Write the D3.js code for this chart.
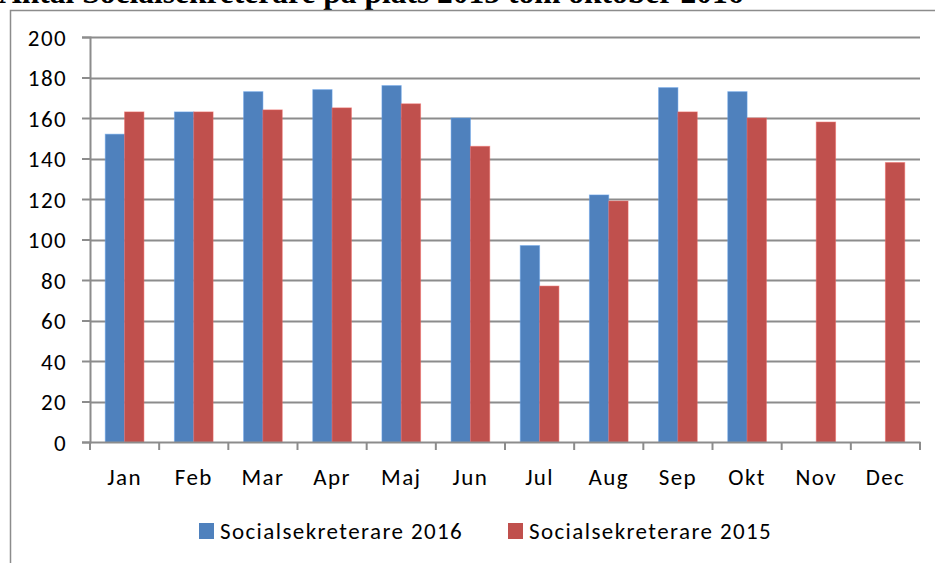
<!DOCTYPE html>
<html>
<head>
<meta charset="utf-8">
<script src="https://cdn.jsdelivr.net/npm/d3@7"></script>
<style>
  body { margin: 0; background: #fff; }
  svg { display: block; }
  .lbl { font-family: Carlito, Calibri, "Liberation Sans Narrow", "Open Sans", sans-serif; font-size: 23px; letter-spacing: 1.4px; fill: #000; }
</style>
</head>
<body>
<script>
const months = ['Jan', 'Feb', 'Mar', 'Apr', 'Maj', 'Jun', 'Jul', 'Aug', 'Sep', 'Okt', 'Nov', 'Dec'];
const series = ['Socialsekreterare 2016', 'Socialsekreterare 2015'];
const values2016 = [152, 163, 173, 174, 176, 160, 97, 122, 175, 173, null, null];
const values2015 = [163, 163, 164, 165, 167, 146, 77, 119, 163, 160, 158, 138];
const yTicks = [0, 20, 40, 60, 80, 100, 120, 140, 160, 180, 200];
const colors = ['#4F81BD', '#C0504D'];

const width = 935;
const height = 563;

const svg = d3.select('body')
  .append('svg')
  .attr('width', width)
  .attr('height', height);

// title, cropped at top of the picture as in the original screenshot
svg.append('text')
  .text('Antal Socialsekreterare på plats 2015 tom oktober 2016')
  .attr('x', -1)
  .attr('y', 3)
  .attr('font-family', '"Liberation Serif", "DejaVu Serif", serif')
  .attr('font-weight', 'bold')
  .attr('font-size', 31.5);

// chart frame
svg.append('path')
  .attr('d', `M 10.5 ${height + 5} L 10.5 10.5 L ${width + 5} 10.5`)
  .attr('fill', 'none')
  .attr('stroke', '#8c8c8c')
  .attr('stroke-width', 1.5);

const plotLeft = 90;
const plotRight = 920;
const plotTop = 37;
const plotBottom = 442;

const x = d3.scaleBand().domain(months).range([plotLeft, plotRight]);
const xInner = d3.scaleBand().domain(series).range([0, x.bandwidth()]).paddingOuter(0.79);
const y = d3.scaleLinear().domain([0, 200]).range([plotBottom, plotTop]);

// gridlines
svg.append('g')
  .selectAll('line')
  .data(yTicks.slice(1))
  .join('line')
  .attr('x1', plotLeft)
  .attr('x2', plotRight)
  .attr('y1', (d) => Math.round(y(d)) + 0.5)
  .attr('y2', (d) => Math.round(y(d)) + 0.5)
  .attr('stroke', '#8c8c8c')
  .attr('stroke-width', 2);

// bars
const rows = months.map((m, i) => ({ month: m, vals: [values2016[i], values2015[i]] }));
const groups = svg.append('g')
  .selectAll('g')
  .data(rows)
  .join('g')
  .attr('transform', (d) => `translate(${x(d.month)},0)`);

groups.selectAll('rect')
  .data((d) => d.vals.map((v, k) => ({ v, k })).filter((d) => d.v != null))
  .join('rect')
  .attr('x', (d) => xInner(series[d.k]))
  .attr('width', xInner.bandwidth())
  .attr('y', (d) => y(d.v))
  .attr('height', (d) => y(0) - y(d.v))
  .attr('fill', (d) => colors[d.k])
  .attr('stroke', (d) => d3.color(colors[d.k]).brighter(0.6))
  .attr('stroke-opacity', 0.5)
  .attr('stroke-width', 1);

// y axis
const yAxis = svg.append('g')
  .attr('transform', `translate(${plotLeft},0)`)
  .call(d3.axisLeft(y).tickValues(yTicks).tickSize(8).tickPadding(15));
yAxis.select('.domain').attr('stroke', '#8c8c8c').attr('stroke-width', 2);
yAxis.selectAll('.tick line').attr('stroke', '#8c8c8c').attr('stroke-width', 2);
yAxis.selectAll('.tick text').attr('class', 'lbl').attr('dy', '0.36em');
yAxis.attr('font-size', null).attr('font-family', null);

// x axis
const xAxis = svg.append('g')
  .attr('transform', `translate(0,${plotBottom})`)
  .call(d3.axisBottom(x).tickSize(0).tickPadding(27));
xAxis.select('.domain').attr('stroke', '#8c8c8c').attr('stroke-width', 2);
xAxis.selectAll('.tick text').attr('class', 'lbl');
xAxis.attr('font-size', null).attr('font-family', null);

// x tick marks at category boundaries
const bounds = months.map((m) => x(m)).concat([plotRight]);
svg.append('g')
  .selectAll('line')
  .data(bounds)
  .join('line')
  .attr('x1', (d) => d)
  .attr('x2', (d) => d)
  .attr('y1', plotBottom)
  .attr('y2', plotBottom + 8)
  .attr('stroke', '#8c8c8c')
  .attr('stroke-width', 2);

// legend
const legendPos = [199, 508];
const legend = svg.append('g')
  .selectAll('g')
  .data(series)
  .join('g')
  .attr('transform', (d, i) => `translate(${legendPos[i]},523)`);
legend.append('rect')
  .attr('width', 15)
  .attr('height', 16)
  .attr('fill', (d, i) => colors[i]);
legend.append('text')
  .attr('class', 'lbl')
  .attr('x', 21)
  .attr('y', 8)
  .attr('dy', '0.36em')
  .text((d) => d);
</script>
</body>
</html>
